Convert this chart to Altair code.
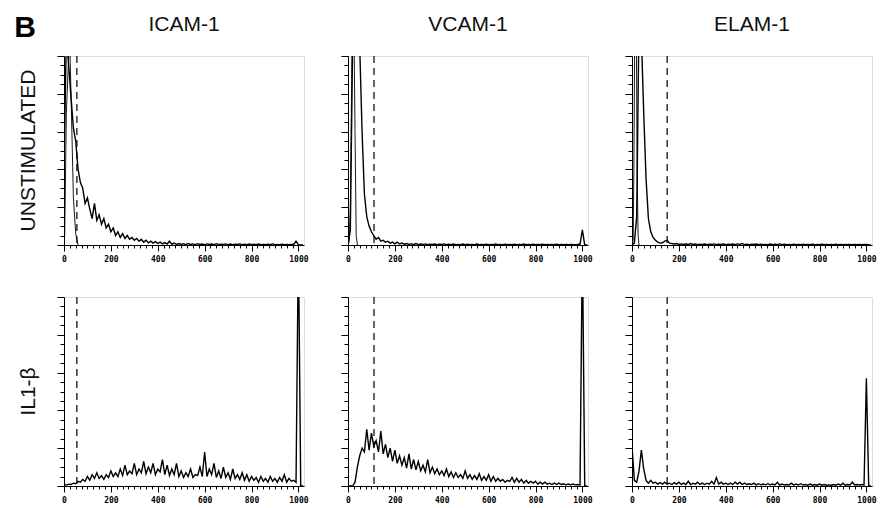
import altair as alt
import pandas as pd

# ---------------- data ----------------
ROWS = ["UNSTIMULATED", "IL1-β"]
COLS = ["ICAM-1", "VCAM-1", "ELAM-1"]

# fluorescence channel of each histogram bin (0..1020, step 10)
CHANNELS = list(range(0, 1021, 10))

# relative cell counts (100 = top of the panel), unstimulated cells
icam_unstim = [40, 110, 95, 78, 62, 55, 40, 33, 30, 22,
               25, 19, 14, 22, 13, 16, 11, 14, 9, 11,
               7, 9, 5, 7, 4, 6, 3.5, 5, 3, 4,
               2.5, 3.5, 2, 3, 1.5, 2.5, 1.2, 2, 1, 1.8,
               0.8, 1.5, 0.6, 1.3, 0.5, 2, 0.4, 1, 0.3, 0.8,
               0.3, 0.7, 0.2, 0.8, 0.3, 0.6, 0.2, 0.7, 0.3, 0.5,
               0.2, 0.6, 0.3, 0.5, 0.2, 0.7, 0.2, 0.4, 0.3, 0.6,
               0.2, 0.5, 0.2, 0.4, 0.3, 0.6, 0.2, 0.4, 0.2, 0.5,
               0.2, 0.4, 0.2, 0.5, 0.2, 0.3, 0.2, 0.4, 0.2, 0.6,
               0.2, 0.3, 0.2, 0.4, 0.2, 0.3, 0.2, 0.3, 0.3, 2,
               0.2, 0, 0]
vcam_unstim = [0, 8, 110, 140, 130, 105, 60, 27, 15, 10,
               7, 5, 3, 4, 2, 2.5, 1.5, 2, 1, 1.5,
               0.6, 1.5, 0.5, 1, 0.4, 0.8, 0.3, 0.6, 0.3, 0.8,
               0.2, 0.5, 0.3, 0.6, 0.2, 0.4, 0.3, 0.5, 0.2, 0.4,
               0.3, 0.6, 0.2, 0.4, 0.2, 0.5, 0.2, 0.3, 0.2, 0.5,
               0.2, 0.4, 0.2, 0.3, 0.2, 0.5, 0.2, 0.3, 0.2, 0.4,
               0.2, 0.3, 0.2, 0.5, 0.2, 0.3, 0.2, 0.4, 0.2, 0.3,
               0.2, 0.4, 0.2, 0.3, 0.2, 0.5, 0.2, 0.3, 0.2, 0.4,
               0.2, 0.3, 0.2, 0.4, 0.2, 0.3, 0.2, 0.3, 0.2, 0.4,
               0.2, 0.3, 0.2, 0.3, 0.2, 0.3, 0.2, 0.2, 0.3, 0.5,
               8, 0, 0]
elam_unstim = [0, 1, 15, 120, 110, 70, 35, 14, 7, 4,
               2.5, 1.5, 1, 1.2, 2, 2.5, 1, 0.8, 0.5, 0.8,
               0.3, 0.6, 0.3, 0.5, 0.3, 0.8, 0.3, 0.5, 0.2, 0.4,
               0.3, 0.5, 0.2, 0.4, 0.3, 0.6, 0.2, 0.4, 0.3, 0.5,
               0.2, 0.4, 0.3, 0.5, 0.2, 0.6, 0.3, 0.8, 0.2, 0.4,
               0.2, 0.4, 0.3, 0.5, 0.2, 0.4, 0.2, 0.3, 0.2, 0.5,
               0.2, 0.4, 0.2, 0.6, 0.2, 0.4, 0.2, 0.3, 0.2, 0.4,
               0.2, 0.3, 0.2, 0.4, 0.2, 0.3, 0.2, 0.4, 0.2, 0.3,
               0.2, 0.4, 0.2, 0.3, 0.2, 0.3, 0.2, 0.4, 0.2, 0.3,
               0.2, 0.3, 0.2, 0.3, 0.2, 0.3, 0.2, 0.3, 0.2, 0.3,
               0.3, 0, 0]

# IL1-beta stimulated cells
icam_il1 = [1, 0.5, 1, 0.8, 1.5, 1.2, 2.5, 2, 3.5, 2.5,
            5, 3, 6, 4, 7, 4, 5.5, 3.5, 6, 4.5,
            8, 5, 7, 5, 9, 5.5, 11, 6, 8, 6.5,
            12, 6, 9, 7, 13, 6.5, 10, 7, 12, 6,
            9, 7.5, 14, 6, 11, 5.5, 9, 6, 12, 5,
            8, 4.5, 7, 5, 9, 4.5, 6, 5.5, 10, 5,
            18, 5, 9, 6, 12, 4.5, 8, 4, 10, 4.5,
            7, 3.5, 9, 4, 6, 3.5, 7, 3, 6, 2.5,
            5, 3, 4.5, 2, 5, 2.5, 4, 2, 5, 2.5,
            4, 2, 4.5, 2.5, 6, 2, 4, 2.5, 3, 2,
            130, 0, 0]
vcam_il1 = [0, 0, 0, 2, 10, 16, 20, 18, 30, 19,
            28, 21, 24, 18, 29, 17, 22, 15, 20, 13,
            19, 12, 16, 11, 15, 9.5, 17, 9, 14, 8.5,
            13, 8, 11, 7.5, 14, 7, 10, 6.5, 9, 6,
            8, 5.5, 9, 5, 7.5, 4.5, 7, 4.5, 6, 4,
            8, 4, 6, 3.5, 5.5, 3.5, 6.5, 3, 5, 3,
            6, 2.5, 5, 2.5, 4, 2.5, 3.5, 2, 3, 2.5,
            4.5, 2, 4, 2, 3.5, 1.5, 3, 1.5, 2.5, 1.5,
            2.5, 1, 2, 1, 2, 1, 1.5, 0.8, 1.5, 0.8,
            1.5, 0.8, 1.2, 0.6, 1, 0.6, 1, 0.6, 0.8, 0.6,
            130, 0, 0]
elam_il1 = [21, 3, 2, 8, 19, 9, 3, 1.5, 3, 1.5,
            2, 1, 1.8, 1, 2, 1, 1.5, 0.8, 1.8, 1,
            2, 0.8, 1.5, 0.8, 2.5, 0.8, 1.5, 1, 2, 0.8,
            1.5, 0.8, 1.5, 1, 2.5, 1, 4.5, 1, 2, 1,
            1.5, 0.8, 1.5, 0.8, 2, 1, 2, 0.8, 1.5, 0.8,
            1.2, 0.8, 1.5, 0.6, 1.2, 0.6, 1, 0.6, 1.2, 0.6,
            1, 0.6, 2, 0.5, 1, 0.5, 0.8, 0.5, 1.5, 0.5,
            1, 0.5, 1.2, 0.5, 0.8, 0.4, 1, 0.4, 0.8, 0.4,
            1, 0.4, 0.8, 0.4, 0.6, 0.4, 0.8, 0.4, 1, 0.4,
            1.5, 0.4, 0.8, 0.5, 2, 0.5, 0.8, 0.5, 0.8, 0.5,
            57, 0, 0]

# isotype-control peaks in the unstimulated panels
icam_ctrl_x = [0, 3, 10, 20, 24, 30, 40, 50, 60]
icam_ctrl_y = [0, 5, 70, 100, 110, 80, 25, 6, 0]
vcam_ctrl_x = [0, 5, 10, 15, 20, 25, 30, 35, 40]
vcam_ctrl_y = [0, 2, 20, 80, 130, 120, 60, 5, 0]
elam_ctrl_x = [0, 5, 8, 12, 18, 22, 26, 30]
elam_ctrl_y = [0, 3, 40, 120, 120, 40, 5, 0]

# dashed gate (channel) per antigen
GATES = {"ICAM-1": 55, "VCAM-1": 111, "ELAM-1": 150}

PANEL_LETTER = "B"

# ---------------- build the table ----------------
tests = {
    ("UNSTIMULATED", "ICAM-1"): icam_unstim,
    ("UNSTIMULATED", "VCAM-1"): vcam_unstim,
    ("UNSTIMULATED", "ELAM-1"): elam_unstim,
    ("IL1-β", "ICAM-1"): icam_il1,
    ("IL1-β", "VCAM-1"): vcam_il1,
    ("IL1-β", "ELAM-1"): elam_il1,
}
controls = {
    "ICAM-1": (icam_ctrl_x, icam_ctrl_y),
    "VCAM-1": (vcam_ctrl_x, vcam_ctrl_y),
    "ELAM-1": (elam_ctrl_x, elam_ctrl_y),
}

recs = []
for (r, c), vals in tests.items():
    for x, y in zip(CHANNELS, vals):
        recs.append(dict(row=r, col=c, kind="test", x=x, y=y, label=""))
for c, (xs, ys) in controls.items():
    for x, y in zip(xs, ys):
        recs.append(dict(row="UNSTIMULATED", col=c, kind="control", x=x, y=y, label=""))
for r in ROWS:
    for c in COLS:
        recs.append(dict(row=r, col=c, kind="gate", x=GATES[c], y=0, label=""))
recs.append(dict(row="UNSTIMULATED", col="ICAM-1", kind="label", x=0, y=0, label=PANEL_LETTER))
df = pd.DataFrame(recs)

# ---------------- chart ----------------
x_axis = alt.Axis(
    values=list(range(0, 1001, 25)),
    labelExpr="datum.value % 200 === 0 ? datum.label : ''",
    format="d",
    tickSize={"condition": {"test": "datum.value % 200 === 0", "value": 6}, "value": 3},
    labelFont="DejaVu Sans Mono", labelFontWeight="bold", labelFontSize=8,
    labelColor="black", labelPadding=4, labelFlush=False, labelOverlap=False,
    domainColor="black", tickColor="black", grid=False, title=None,
)
y_axis = alt.Axis(
    values=list(range(0, 101, 5)),
    labels=False,
    tickSize={"condition": {"test": "datum.value % 20 === 0", "value": 7}, "value": 4},
    domainColor="black", tickColor="black", grid=False, title=None,
)
x_enc = alt.X("x:Q", scale=alt.Scale(domain=[0, 1024], nice=False, zero=False), axis=x_axis)
y_enc = alt.Y("y:Q", scale=alt.Scale(domain=[0, 100], nice=False), axis=y_axis)

base = alt.Chart()
test_line = base.mark_line(color="black", strokeWidth=1.4, clip=True).encode(
    x=x_enc, y=y_enc, order="x:Q").transform_filter(alt.datum.kind == "test")
ctrl_line = base.mark_line(color="black", strokeWidth=0.9, clip=True).encode(
    x=x_enc, y=y_enc, order="x:Q").transform_filter(alt.datum.kind == "control")
gate = base.mark_rule(color="black", strokeDash=[7, 5], strokeWidth=1.2).encode(
    x=x_enc).transform_filter(alt.datum.kind == "gate")
letter = base.mark_text(fontSize=30, fontWeight="bold", font="Liberation Sans",
                        align="center", baseline="middle", color="black").encode(
    x=alt.value(-39), y=alt.value(-28), text="label:N").transform_filter(alt.datum.kind == "label")

panel = alt.layer(gate, ctrl_line, test_line, letter).properties(width=240, height=189)

chart = panel.facet(
    row=alt.Row("row:N", sort=ROWS, header=alt.Header(
        title=None, labelFontSize=21, labelFont="Liberation Sans", labelColor="#111",
        labelAngle=-90, labelOrient="left", labelPadding=14)),
    column=alt.Column("col:N", sort=COLS, header=alt.Header(
        title=None, labelFontSize=21, labelFont="Liberation Sans", labelColor="#111",
        labelPadding=21)),
    data=df,
    spacing={"row": 52, "column": 44},
    bounds="flush",
).resolve_axis(x="independent", y="independent").properties(
    padding={"left": 5, "top": 4, "right": 0, "bottom": 0}
).configure_view(
    stroke="black", strokeWidth=1
).configure(background="white")

chart.save("out.html", embed_options={"renderer": "svg", "actions": False})
